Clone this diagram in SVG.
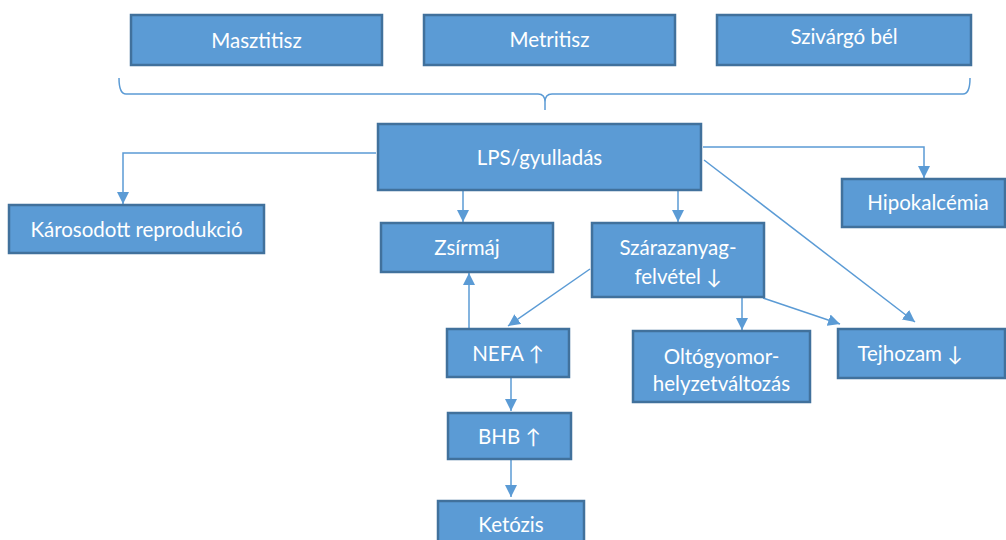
<svg xmlns="http://www.w3.org/2000/svg" width="1006" height="540" viewBox="0 0 1006 540">
<defs>
<marker id="ah" markerWidth="14" markerHeight="12" refX="12" refY="6" orient="auto" markerUnits="userSpaceOnUse">
<path d="M0,0 L12,6 L0,12 Z" fill="#5B9BD5"/>
</marker>
<style>
.box{fill:#5B9BD5;stroke:#41719C;stroke-width:2.5}
.t{fill:#fff;font-family:Lato,"Open Sans","Liberation Sans",sans-serif;font-size:20.5px;text-anchor:middle;dominant-baseline:central}
.c{fill:none;stroke:#5B9BD5;stroke-width:1.5}
.a{marker-end:url(#ah)}
</style>
</defs>
<g id="connectors">
<path class="c" d="M119,78 Q119,94 126,94 L538,94 Q545,94 545,102 L545,110 M545,102 Q545,94 552,94 L963,94 Q970,94 970,78"/>
<path class="c a" d="M376,153 H123 V204"/>
<path class="c a" d="M463,190 V222"/>
<path class="c a" d="M678,190 V222"/>
<path class="c a" d="M703,147 H924 V178"/>
<path class="c a" d="M704,160 L915,322"/>
<path class="c a" d="M763,298 L840,324"/>
<path class="c a" d="M742,297 V330"/>
<path class="c a" d="M590,269 L508,326"/>
<path class="c a" d="M469,329 V273"/>
<path class="c a" d="M511,377 V411"/>
<path class="c a" d="M511,459 V497"/>
</g>
<g id="masztitisz"><rect class="box" x="131" y="15" width="251" height="50"/><text class="t" x="256.5" y="40">Masztitisz</text></g>
<g id="metritisz"><rect class="box" x="424" y="15" width="251" height="50"/><text class="t" x="549.5" y="39">Metritisz</text></g>
<g id="szivargo"><rect class="box" x="717" y="15" width="254" height="50"/><text class="t" x="844" y="36">Szivárgó bél</text></g>
<g id="lps"><rect class="box" x="378" y="124" width="323" height="66"/><text class="t" x="539.5" y="157">LPS/gyulladás</text></g>
<g id="karosodott"><rect class="box" x="9" y="205" width="255" height="48"/><text class="t" x="136.5" y="229">Károsodott reprodukció</text></g>
<g id="zsirmaj"><rect class="box" x="381" y="223" width="172" height="49"/><text class="t" x="467" y="247">Zsírmáj</text></g>
<g id="szarazanyag"><rect class="box" x="592" y="223" width="172" height="74"/><text class="t" x="678" y="247">Szárazanyag-</text><text class="t" x="678" y="276">felvétel ↓</text></g>
<g id="hipokalcemia"><rect class="box" x="842" y="179" width="163" height="48"/><text class="t" x="928" y="202">Hipokalcémia</text></g>
<g id="nefa"><rect class="box" x="447" y="329" width="122" height="48"/><text class="t" x="508" y="353">NEFA ↑</text></g>
<g id="oltogyomor"><rect class="box" x="633" y="331" width="177" height="71"/><text class="t" x="721.5" y="356">Oltógyomor-</text><text class="t" x="721.5" y="383">helyzetváltozás</text></g>
<g id="tejhozam"><rect class="box" x="838" y="329" width="167" height="49"/><text class="t" x="910" y="353">Tejhozam ↓</text></g>
<g id="bhb"><rect class="box" x="448" y="413" width="123" height="46"/><text class="t" x="509.5" y="436">BHB ↑</text></g>
<g id="ketozis"><rect class="box" x="438" y="501" width="146" height="45"/><text class="t" x="511" y="524">Ketózis</text></g>
</svg>
